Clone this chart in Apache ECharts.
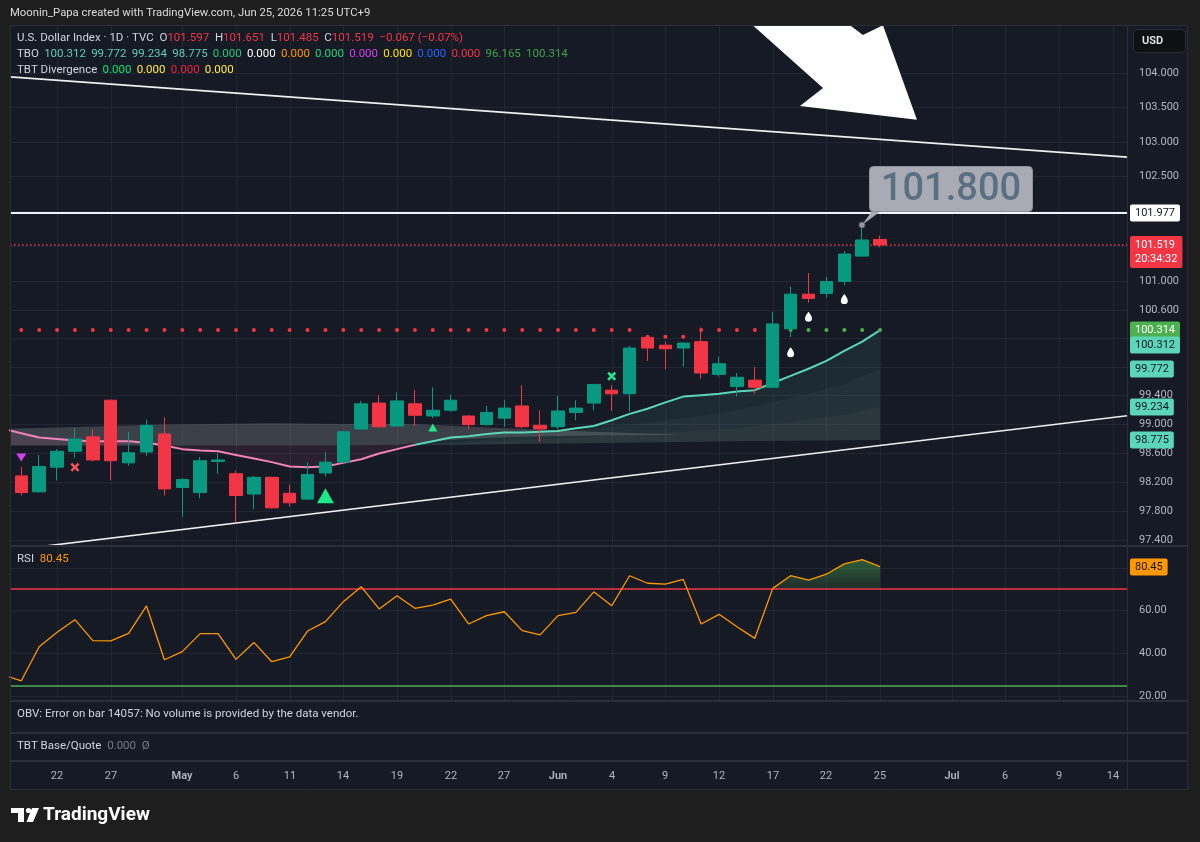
<!DOCTYPE html>
<html>
<head>
<meta charset="utf-8">
<title>U.S. Dollar Index · 1D · TVC</title>
<script src="https://cdn.jsdelivr.net/npm/echarts@6.0.0/dist/echarts.min.js"></script>
<style>
	html, body { margin: 0; padding: 0; background: #1e1e1e; }
	#chart { width: 1200px; height: 842px; }
</style>
</head>
<body>
<div id="chart"></div>
<script>
// bar numbers: 0 = Apr 22, one step per trading day, 46 = Jun 25
var dateBars = [0, 3, 7, 10, 13, 16, 19, 22, 25, 28, 31, 34, 37, 40, 43, 46, 50, 53, 56, 59];
var dateLabels = ['22', '27', 'May', '6', '11', '14', '19', '22', '27', 'Jun', '4', '9', '12', '17', '22', '25', 'Jul', '6', '9', '14'];

var priceTicks = [104, 103.5, 103, 102.5, 102, 101.5, 101, 100.6, 100.2, 99.8, 99.4, 99, 98.6, 98.2, 97.8, 97.4];
var rsiTicks = [80, 60, 40, 20];

// [bar, open, close, low, high]
var candles = [
	[-2, 98.28, 98.05, 98.01, 98.40],
	[-1, 98.06, 98.41, 98.05, 98.57],
	[0, 98.40, 98.62, 98.22, 98.65],
	[1, 98.62, 98.79, 98.53, 98.94],
	[2, 98.82, 98.50, 98.48, 98.92],
	[3, 99.33, 98.49, 98.22, 99.34],
	[4, 98.46, 98.60, 98.42, 98.89],
	[5, 98.61, 98.98, 98.56, 99.06],
	[6, 98.86, 98.10, 98.01, 99.09],
	[7, 98.12, 98.23, 97.72, 98.25],
	[8, 98.05, 98.49, 97.97, 98.54],
	[9, 98.48, 98.50, 98.31, 98.59],
	[10, 98.31, 98.01, 97.64, 98.35],
	[11, 98.03, 98.26, 97.82, 98.28],
	[12, 98.26, 97.84, 97.83, 98.27],
	[13, 98.04, 97.91, 97.86, 98.16],
	[14, 97.96, 98.30, 97.95, 98.47],
	[15, 98.32, 98.47, 98.27, 98.61],
	[16, 98.47, 98.89, 98.46, 98.90],
	[17, 98.93, 99.28, 98.92, 99.32],
	[18, 99.29, 98.96, 98.95, 99.40],
	[19, 98.97, 99.32, 98.96, 99.44],
	[20, 99.28, 99.12, 98.97, 99.47],
	[21, 99.11, 99.19, 99.08, 99.51],
	[22, 99.19, 99.33, 99.17, 99.41],
	[23, 99.11, 98.99, 98.92, 99.12],
	[24, 98.99, 99.16, 98.98, 99.25],
	[25, 99.08, 99.22, 98.96, 99.33],
	[26, 99.25, 98.96, 98.94, 99.54],
	[27, 98.98, 98.93, 98.75, 99.19],
	[28, 98.96, 99.18, 98.92, 99.39],
	[29, 99.16, 99.22, 99.05, 99.33],
	[30, 99.29, 99.55, 99.19, 99.56],
	[31, 99.47, 99.42, 99.18, 99.54],
	[32, 99.42, 100.06, 99.17, 100.09],
	[33, 100.21, 100.06, 99.88, 100.24],
	[34, 100.10, 100.05, 99.76, 100.15],
	[35, 100.06, 100.13, 99.80, 100.14],
	[36, 100.15, 99.71, 99.63, 100.35],
	[37, 99.69, 99.84, 99.66, 99.94],
	[38, 99.52, 99.65, 99.38, 99.71],
	[39, 99.61, 99.51, 99.42, 99.79],
	[40, 99.51, 100.40, 99.50, 100.57],
	[41, 100.33, 100.82, 100.21, 100.93],
	[42, 100.82, 100.76, 100.70, 101.12],
	[43, 100.83, 101.00, 100.77, 101.07],
	[44, 101.00, 101.39, 100.95, 101.43],
	[45, 101.36, 101.59, 101.35, 101.80],
	[46, 101.597, 101.519, 101.485, 101.651]
];
var dayChange = -0.067, dayChangePct = -0.07;
var countdown = '20:34:32';
var levelLine = 101.977;

// TBO fast line, one value per bar starting at bar -3
var fastStart = -3;
var fastLine = [98.93, 98.87, 98.81, 98.79, 98.77, 98.76, 98.76, 98.76, 98.74, 98.70,
	98.65, 98.63, 98.62, 98.57, 98.52, 98.47, 98.41, 98.40, 98.41, 98.46,
	98.51, 98.59, 98.65, 98.71, 98.76, 98.81, 98.83, 98.86, 98.88, 98.88,
	98.89, 98.90, 98.94, 98.97, 99.05, 99.14, 99.21, 99.30, 99.38, 99.40,
	99.42, 99.45, 99.47, 99.57, 99.67, 99.77, 99.88, 100.02, 100.15, 100.312];
var fastTurnBar = 20; // pink before, teal after

// TBO cloud edges, read at a few bars
var grayTop = [[-3, 98.93], [0, 98.95], [6, 98.99], [12, 99.01], [16, 99.00], [20, 99.00], [24, 98.95], [30, 98.89], [35, 98.85]];
var grayBottom = [[-3, 98.70], [5, 98.70], [15, 98.70], [19, 98.71], [22, 98.78], [26, 98.82], [30, 98.84], [35, 98.85]];
var pinkBase = [[-3, 98.70], [5, 98.70], [15, 98.70], [20, 98.72]];
var tboSlow = [[20, 98.70], [26, 98.72], [32, 98.74], [38, 98.76], [46, 98.775]];
var tboMid = [[20, 98.71], [26, 98.82], [31, 98.96], [35, 99.08], [38, 99.19], [41, 99.36], [44, 99.55], [46, 99.772]];
var tboSlowMid = [[24, 98.76], [30, 98.82], [34, 98.88], [38, 98.94], [41, 99.03], [44, 99.13], [46, 99.234]];

// resistance dots: red from bar -2, green from bar 41
var redDotStart = -2;
var redDots = [100.314, 100.314, 100.314, 100.314, 100.314, 100.314, 100.314, 100.314, 100.314, 100.314,
	100.314, 100.314, 100.314, 100.314, 100.314, 100.314, 100.314, 100.314, 100.314, 100.314,
	100.314, 100.314, 100.314, 100.314, 100.314, 100.314, 100.314, 100.314, 100.314, 100.314,
	100.314, 100.314, 100.314, 100.314, 100.314, 100.22, 100.22, 100.22, 100.314, 100.314,
	100.314, 100.314, 100.314];
var greenDotStart = 41;
var greenDots = [100.314, 100.314, 100.314, 100.314, 100.314, 100.314];

// signal markers [bar, price]
var sellTriangles = [[-2, 98.535]];
var redCrosses = [[1, 98.40]];
var bigBuyTriangles = [[15, 98.006]];
var smallBuyTriangles = [[21, 98.95]];
var greenCrosses = [[31, 99.666]];
var whiteDrops = [[41, 100.00], [42, 100.50], [44, 100.75]];

// drawings
var upperTrend = [[-2.63, 103.943], [59.8, 102.779]];
var lowerTrend = [[-2.63, 97.259], [59.8, 99.114]];
var arrowShape = [[38.88, 104.70], [42.81, 103.78], [41.52, 103.52], [48.06, 103.32], [46.16, 104.70], [45.04, 104.556], [44.32, 104.70]];
var calloutBar = 45;

// scale tags on the price axis
var axisTags = [101.977, 101.519, 100.314, 100.312, 99.772, 99.234, 98.775];
var tboValues = [100.312, 99.772, 99.234, 98.775, 0, 0, 0, 0, 0, 0, 0, 0, 96.165, 100.314];
var divergenceValues = [0, 0, 0, 0];

// RSI, one value per bar starting at bar -3
var rsiStart = -3;
var rsi = [29.9, 27.2, 43.1, 49.8, 55.7, 45.9, 45.8, 49.3, 62.1, 37.0,
	40.8, 49.2, 49.2, 37.2, 45.1, 36.1, 38.3, 50.4, 54.8, 64.1,
	71.1, 60.7, 66.9, 61.0, 62.5, 65.3, 53.7, 57.6, 59.4, 50.6,
	48.6, 57.6, 59.1, 68.7, 62.2, 76.2, 72.7, 72.3, 74.5, 53.7,
	58.2, 52.4, 47.0, 70.3, 76.2, 74.1, 76.9, 81.7, 83.7, 80.45];
var rsiUpper = 70, rsiLower = 25;
var rsiFillFrom = 40;

// ---------------------------------------------------------------
var FONT = "Roboto, 'Noto Sans', sans-serif";
var BG = '#161a25', GRIDC = '#222632', SEP = '#2a2e39', TXT = '#d1d4dc', AXT = '#b2b5be';
var UP = '#089981', DOWN = '#f23645', TEAL = '#5cd6b8', PINK = '#f083ba';

var X_MIN = -2.63, X_MAX = 59.8;
var P_MIN = 97.331, P_MAX = 104.703;
var R_MIN = 18.24, R_MAX = 89.6;

function toPoints(start, values) {
	return values.map(function (v, i) { return [start + i, v]; });
}
var fastPts = toPoints(fastStart, fastLine);
var fastPink = fastPts.filter(function (p) { return p[0] <= fastTurnBar; });
var fastTeal = fastPts.filter(function (p) { return p[0] >= fastTurnBar; });
var rsiPts = toPoints(rsiStart, rsi);

function crisp(v) { return Math.round(v) + 0.5; }

function hRules(g, values, style, z) {
	return {
		type: 'custom', xAxisIndex: g, yAxisIndex: g, z: z, silent: true, clip: true, animation: false,
		data: values.map(function (v) { return [X_MIN, v]; }),
		renderItem: function (params, api) {
			var a = api.coord([X_MIN, api.value(1)]), b = api.coord([X_MAX, api.value(1)]);
			var y = style.lineWidth === 1 ? crisp(a[1]) : Math.round(a[1]);
			return { type: 'line', shape: { x1: a[0], y1: y, x2: b[0], y2: y }, style: style };
		}
	};
}
function vRules(g, lo, hi, bars, style, z) {
	return {
		type: 'custom', xAxisIndex: g, yAxisIndex: g, z: z, silent: true, clip: true, animation: false,
		data: bars.map(function (b) { return [b, lo]; }),
		renderItem: function (params, api) {
			var a = api.coord([api.value(0), lo]), b = api.coord([api.value(0), hi]);
			var x = crisp(a[0]);
			return { type: 'line', shape: { x1: x, y1: a[1], x2: x, y2: b[1] }, style: style };
		}
	};
}
function bandSeries(g, bands, z) {
	return {
		type: 'custom', xAxisIndex: g, yAxisIndex: g, z: z, silent: true, clip: true, animation: false,
		data: bands.map(function (b) { return b.upper[0]; }),
		renderItem: function (params, api) {
			var b = bands[params.dataIndex];
			var poly = b.upper.concat(b.lower.slice().reverse()).map(function (p) { return api.coord(p); });
			return { type: 'polygon', shape: { points: poly }, style: { fill: b.fill } };
		}
	};
}
function textSeries(g, items, z) {
	return {
		type: 'custom', xAxisIndex: g, yAxisIndex: g, z: z, silent: true, clip: false, animation: false,
		data: items.map(function (it) { return it.at; }),
		renderItem: function (params, api) {
			var it = items[params.dataIndex];
			var p = api.coord(it.at);
			return {
				type: 'text', x: Math.round(p[0] + (it.dx || 0)), y: Math.round(p[1] + (it.dy || 0)),
				style: Object.assign({
					text: it.text, font: '11px ' + FONT, fill: AXT, align: 'left', verticalAlign: 'middle'
				}, it.style || {})
			};
		}
	};
}
function lineSeries(g, data, color, width, z) {
	return {
		type: 'line', xAxisIndex: g, yAxisIndex: g, data: data, z: z, silent: true,
		showSymbol: false, symbol: 'none', clip: true, animation: false,
		lineStyle: { color: color, width: width }
	};
}
function markerSeries(data, symbol, size, color, z, rotate) {
	return {
		type: 'scatter', xAxisIndex: 0, yAxisIndex: 0, data: data, z: z, silent: true, animation: false,
		symbol: symbol, symbolSize: size, symbolRotate: rotate || 0,
		itemStyle: { color: color, opacity: 1 }
	};
}

var CROSS = 'path://M2,0L5,3L8,0L10,2L7,5L10,8L8,10L5,7L2,10L0,8L3,5L0,2Z';
var DROP = 'path://M5,0C7,3 10,6 10,9.5C10,12.5 8,14 5,14C2,14 0,12.5 0,9.5C0,6 3,3 5,0Z';

// price scale labels and tags
var tagStyles = [
	{ backgroundColor: '#ffffff', fill: '#131722' },
	{ backgroundColor: '#f23645', fill: '#ffffff' },
	{ backgroundColor: '#4caf50', fill: '#ffffff' },
	{ backgroundColor: TEAL, fill: '#131722' },
	{ backgroundColor: TEAL, fill: '#131722' },
	{ backgroundColor: TEAL, fill: '#131722' },
	{ backgroundColor: TEAL, fill: '#131722' }
];
var priceLabelItems = priceTicks.map(function (v) {
	return { at: [X_MAX, v], text: v.toFixed(3), dx: 12 };
});
var tagItems = axisTags.map(function (v, i) {
	var st = Object.assign({ padding: [2, 5, 2, 5], borderRadius: 2, lineHeight: 13, font: '11px ' + FONT }, tagStyles[i]);
	var it = { at: [X_MAX, v], text: v.toFixed(3), dx: 3, style: st };
	if (i === 1) {
		it.text = v.toFixed(3) + '\n' + countdown;
		it.dy = -9;
		st.verticalAlign = 'top';
		st.lineHeight = 14;
	}
	if (i === 3) it.dy = 15; // pushed below the 100.314 tag
	return it;
});
var rsiLabelItems = rsiTicks.map(function (v) {
	return { at: [X_MAX, v], text: v.toFixed(2), dx: 12 };
});
var lastRsi = rsi[rsi.length - 1];
rsiLabelItems.push({ at: [X_MAX, lastRsi], text: lastRsi.toFixed(2), dx: 3,
	style: { backgroundColor: '#ff9800', fill: '#131722', padding: [2, 5, 2, 5], borderRadius: 2, lineHeight: 13 } });
var timeItems = dateBars.map(function (b, i) {
	var month = isNaN(Number(dateLabels[i]));
	return { at: [b, 0.5], text: dateLabels[i],
		style: { align: 'center', fill: AXT, font: (month ? '600 ' : '') + '11px ' + FONT } };
});

// cloud polygons
var cloud = [
	{ upper: grayTop, lower: grayBottom, fill: 'rgba(178,184,186,0.24)' },
	{ upper: fastPink, lower: pinkBase, fill: 'rgba(240,100,170,0.09)' },
	{ upper: fastTeal, lower: tboSlow, fill: 'rgba(90,190,160,0.10)' },
	{ upper: tboMid, lower: tboSlow, fill: 'rgba(150,175,165,0.06)' },
	{ upper: tboSlowMid, lower: tboSlow, fill: 'rgba(160,172,172,0.055)' }
];
var rsiFill = [{
	upper: rsiPts.filter(function (p) { return p[0] >= rsiFillFrom; }),
	lower: [[rsiFillFrom, rsiUpper], [rsiPts[rsiPts.length - 1][0], rsiUpper]],
	fill: new echarts.graphic.LinearGradient(0, 0, 0, 1, [
		{ offset: 0, color: 'rgba(76,175,80,0.45)' },
		{ offset: 1, color: 'rgba(76,175,80,0.12)' }
	])
}];

var last = candles[candles.length - 1];
var callout = candles.filter(function (c) { return c[0] === calloutBar; })[0];

// legend strings
var GAP = ' \u2009';
function signed(v, d) { return (v < 0 ? '\u2212' : '+') + Math.abs(v).toFixed(d); }
var ohlcText = '{t|U.S. Dollar Index · 1D · TVC}  {t|O}{r|' + last[1].toFixed(3) + '}  {t|H}{r|' + last[4].toFixed(3) +
	'}  {t|L}{r|' + last[3].toFixed(3) + '}  {t|C}{r|' + last[2].toFixed(3) + '}  {r|' + signed(dayChange, 3) +
	' (' + signed(dayChangePct, 2) + '%)}';
var tboColors = ['#5bd0b3', '#5bd0b3', '#5bd0b3', '#5bd0b3', '#1fc77a', '#ffffff', '#ff9800', '#20d47e',
	'#d63ff0', '#ffe100', '#2962ff', '#f23645', '#43a047', '#43a047'];
var tboRich = { t: { fill: TXT } };
var tboText = '{t|TBO}' + GAP + tboValues.map(function (v, i) {
	tboRich['c' + i] = { fill: tboColors[i] };
	return '{c' + i + '|' + v.toFixed(3) + '}';
}).join(GAP);
var divColors = ['#00e676', '#ffeb3b', '#f2213b', '#ffeb3b'];
var divRich = { t: { fill: TXT } };
var divText = '{t|TBT Divergence}' + GAP + divergenceValues.map(function (v, i) {
	divRich['d' + i] = { fill: divColors[i] };
	return '{d' + i + '|' + v.toFixed(3) + '}';
}).join(GAP);

function gText(x, y, text, rich, font, fill) {
	return { type: 'text', x: x, y: y, z: 100, silent: true,
		style: { text: text, rich: rich || {}, font: font || ('11.5px ' + FONT), fill: fill || TXT, verticalAlign: 'middle' } };
}
function gLine(x1, y1, x2, y2, w, c) {
	return { type: 'line', z: 102, silent: true, shape: { x1: x1, y1: y1, x2: x2, y2: y2 }, style: { stroke: c || SEP, lineWidth: w || 1 } };
}

var chart = echarts.init(document.getElementById('chart'));
chart.setOption({
	backgroundColor: '#1e1e1e',
	animation: false,
	grid: [
		{ left: 10, top: 25, width: 1117, height: 520, containLabel: false, outerBoundsMode: 'none' },
		{ left: 10, top: 547, width: 1117, height: 153, containLabel: false, outerBoundsMode: 'none' },
		{ left: 10, top: 762, width: 1117, height: 28, containLabel: false, outerBoundsMode: 'none' }
	],
	xAxis: [0, 1, 2].map(function (g) {
		return { type: 'value', gridIndex: g, min: X_MIN, max: X_MAX, show: false };
	}),
	yAxis: [
		{ type: 'log', gridIndex: 0, min: P_MIN, max: P_MAX, show: false },
		{ type: 'value', gridIndex: 1, min: R_MIN, max: R_MAX, show: false },
		{ type: 'value', gridIndex: 2, min: 0, max: 1, show: false }
	],
	series: [
		// main pane
		hRules(0, priceTicks, { stroke: GRIDC, lineWidth: 1 }, 0),
		vRules(0, P_MIN, P_MAX, dateBars, { stroke: GRIDC, lineWidth: 1 }, 0),
		bandSeries(0, cloud, 1),
		lineSeries(0, fastPink, PINK, 2, 2),
		lineSeries(0, fastTeal, TEAL, 2, 2),
		lineSeries(0, upperTrend, '#eeeeee', 1.6, 2),
		lineSeries(0, lowerTrend, '#eeeeee', 1.6, 2),
		hRules(0, [levelLine], { stroke: '#f0f3fa', lineWidth: 2 }, 2),
		hRules(0, [last[2]], { stroke: '#f23645', lineWidth: 1.3, lineDash: [1.5, 2.5] }, 2),
		markerSeries(toPoints(redDotStart, redDots), 'circle', 4, '#f23645', 2),
		markerSeries(toPoints(greenDotStart, greenDots), 'circle', 4, '#4caf50', 2),
		{
			type: 'candlestick', xAxisIndex: 0, yAxisIndex: 0, z: 3, silent: true, animation: false,
			encode: { x: 0, y: [1, 2, 3, 4] },
			data: candles, barWidth: 13, clip: true,
			itemStyle: { color: UP, color0: DOWN, borderColor: UP, borderColor0: DOWN, borderWidth: 1 }
		},
		markerSeries(sellTriangles, 'triangle', [10, 8], '#d63ff0', 4, 180),
		markerSeries(redCrosses, CROSS, 9, '#f7525f', 4),
		markerSeries(bigBuyTriangles, 'triangle', [17, 15], '#1ee88a', 4),
		markerSeries(smallBuyTriangles, 'triangle', [9, 8], '#1ee88a', 4),
		markerSeries(greenCrosses, CROSS, 9, '#1ee88a', 4),
		markerSeries(whiteDrops, DROP, [7, 10], '#ffffff', 4),
		{
			type: 'custom', xAxisIndex: 0, yAxisIndex: 0, z: 5, silent: true, clip: true, animation: false,
			data: [arrowShape[0]],
			renderItem: function (params, api) {
				return { type: 'polygon', shape: { points: arrowShape.map(function (p) { return api.coord(p); }) },
					style: { fill: '#ffffff' } };
			}
		},
		{
			type: 'custom', xAxisIndex: 0, yAxisIndex: 0, z: 6, silent: true, clip: false, animation: false,
			data: [[callout[0], callout[4]]],
			renderItem: function (params, api) {
				var p = api.coord([api.value(0), api.value(1)]);
				var x = Math.round(p[0]), y = Math.round(p[1]);
				return { type: 'group', children: [
					{ type: 'polygon', shape: { points: [[x, y], [x + 10, y - 14], [x + 19, y - 14]] }, style: { fill: '#a8abb3' } },
					{ type: 'rect', shape: { x: x + 7.5, y: y - 58.5, width: 163, height: 45, r: 4 },
						style: { fill: '#a8abb3', stroke: '#8c9099', lineWidth: 1 } },
					{ type: 'text', x: x + 89, y: y - 35, style: { text: api.value(1).toFixed(3), font: '500 38px ' + FONT,
						fill: '#5a6f82', align: 'center', verticalAlign: 'middle' } },
					{ type: 'circle', shape: { cx: x, cy: y, r: 3 }, style: { fill: '#9598a1', stroke: '#5d606b', lineWidth: 1 } }
				] };
			}
		},
		textSeries(0, priceLabelItems, 10),
		textSeries(0, tagItems, 11),

		// RSI pane
		hRules(1, rsiTicks, { stroke: GRIDC, lineWidth: 1 }, 0),
		vRules(1, R_MIN, R_MAX, dateBars, { stroke: GRIDC, lineWidth: 1 }, 0),
		bandSeries(1, rsiFill, 1),
		hRules(1, [rsiUpper], { stroke: '#f23645', lineWidth: 1.6 }, 1),
		hRules(1, [rsiLower], { stroke: '#4caf50', lineWidth: 1.6 }, 1),
		lineSeries(1, rsiPts, '#ff9800', 1.3, 2),
		textSeries(1, rsiLabelItems, 10),

		// time scale
		textSeries(2, timeItems, 10)
	],
	graphic: [
		{ type: 'rect', z: 0, silent: true, shape: { x: 10, y: 25, width: 1178, height: 765 }, style: { fill: BG } },
		{ type: 'rect', z: 90, silent: true, shape: { x: 10, y: 701, width: 1178, height: 59 }, style: { fill: BG } },
		gLine(10, 546, 1188, 546, 2),
		gLine(10, 701, 1188, 701, 2),
		gLine(10, 733, 1188, 733, 2),
		gLine(10, 761, 1188, 761, 2),
		gLine(1127.5, 25, 1127.5, 790, 1),
		{ type: 'rect', z: 100, silent: true, shape: { x: 10.5, y: 25.5, width: 1177, height: 764 }, style: { fill: null, stroke: SEP, lineWidth: 1 } },
		gText(10, 13, 'Moonin_Papa created with TradingView.com, Jun 25, 2026 11:25 UTC+9', null, '11.3px ' + FONT, '#dcdcdc'),
		gText(17, 38, ohlcText, { t: { fill: TXT }, r: { fill: '#f23645' } }),
		gText(17, 54, tboText, tboRich),
		gText(17, 70, divText, divRich),
		gText(17, 559, '{t|RSI}  {o|' + lastRsi.toFixed(2) + '}', { t: { fill: TXT }, o: { fill: '#ff9800' } }),
		gText(17, 714, 'OBV: Error on bar 14057: No volume is provided by the data vendor.'),
		gText(17, 746, '{t|TBT Base/Quote}  {g|0.000  Ø}', { t: { fill: TXT }, g: { fill: '#787b86' } }),
		{ type: 'rect', z: 100, silent: true, shape: { x: 1133.5, y: 29.5, width: 52, height: 23, r: 4 }, style: { fill: '#0f1014', stroke: SEP, lineWidth: 1 } },
		gText(1142, 41, 'USD', null, '600 11px ' + FONT, '#e6e8ee'),
		// TradingView mark
		{ type: 'rect', z: 100, silent: true, shape: { x: 11, y: 808, width: 13, height: 5 }, style: { fill: '#ffffff' } },
		{ type: 'rect', z: 100, silent: true, shape: { x: 18, y: 808, width: 6, height: 14 }, style: { fill: '#ffffff' } },
		{ type: 'circle', z: 100, silent: true, shape: { cx: 28.5, cy: 810.5, r: 2.6 }, style: { fill: '#ffffff' } },
		{ type: 'polygon', z: 100, silent: true, shape: { points: [[32, 808], [39, 808], [33, 822], [26.5, 822]] }, style: { fill: '#ffffff' } },
		gText(43, 815, 'TradingView', null, 'bold 19px ' + FONT, '#ffffff')
	]
});
</script>
</body>
</html>
